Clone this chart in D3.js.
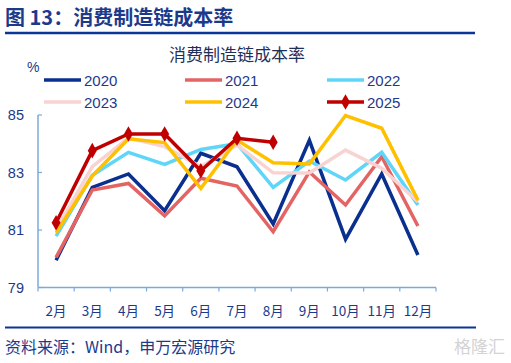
<!DOCTYPE html>
<meta charset="utf-8">
<style>
body { margin: 0; background: #fff; }
text { font-family: "Liberation Sans", "Noto Sans CJK SC", sans-serif; fill: #1c3a8c; }
.cjk { font-family: "Noto Sans CJK SC", sans-serif; }
</style>
<svg width="511" height="363"></svg>
<script src="https://d3js.org/d3.v7.min.js"></script>
<script>

var months = ["2月", "3月", "4月", "5月", "6月", "7月", "8月", "9月", "10月", "11月", "12月"];
var years = ["2020", "2021", "2022", "2023", "2024", "2025"];
var yTicks = [79, 81, 83, 85];

var v2020 = [79.95, 82.48, 82.95, 81.67, 83.67, 83.2, 81.21, 84.12, 80.68, 82.95, 80.13];
var v2021 = [80.05, 82.39, 82.62, 81.49, 82.8, 82.53, 80.94, 83.02, 81.87, 83.55, 81.14];
var v2022 = [80.79, 82.9, 83.7, 83.28, 83.8, 84.0, 82.48, 83.4, 82.74, 83.7, 81.87];
var v2023 = [81.0, 83.2, 84.2, 83.9, 83.2, 83.96, 82.99, 82.98, 83.78, 83.15, 81.98];
var v2024 = [80.9, 82.88, 84.17, 84.04, 82.45, 84.13, 83.34, 83.3, 84.98, 84.54, 82.04];
var v2025 = [81.25, 83.76, 84.34, 84.34, 83.06, 84.19, 84.05];

var colors = ["#0a2f8f", "#e46464", "#5fd6f8", "#f9d2d2", "#ffc000", "#c00000"];
var series = [v2020, v2021, v2022, v2023, v2024, v2025];

var svg = d3.select("svg");

// header
svg.append("text").attr("class", "cjk")
    .attr("x", 5).attr("y", 25)
    .style("font-size", "20px").style("font-weight", "bold")
    .text("图 13：消费制造链成本率");
svg.append("line").attr("x1", 5).attr("x2", 475).attr("y1", 33).attr("y2", 33)
    .attr("stroke", "#0b3596").attr("stroke-width", 2.5);

svg.append("text").attr("class", "cjk")
    .attr("x", 237).attr("y", 61).attr("text-anchor", "middle")
    .style("font-size", "17px").style("fill", "#1f2f5c")
    .text("消费制造链成本率");

svg.append("text").attr("x", 27).attr("y", 72)
    .style("font-size", "14px").text("%");

// scales
var x = d3.scaleBand().domain(months).range([38, 436]);
var y = d3.scaleLinear().domain([79, 85]).range([287.5, 115]);

// axes
var axisColor = "#7aaadc";
var gx = svg.append("g").attr("transform", "translate(0," + y(79) + ")");
gx.append("line").attr("x1", x.range()[0]).attr("x2", x.range()[1])
    .attr("stroke", axisColor).attr("stroke-width", 1.5);
gx.selectAll("line.tick").data(months.concat(["end"])).enter().append("line")
    .attr("class", "tick")
    .attr("x1", function(d, i) { return x.range()[0] + i * x.step(); })
    .attr("x2", function(d, i) { return x.range()[0] + i * x.step(); })
    .attr("y1", 0).attr("y2", 4)
    .attr("stroke", axisColor).attr("stroke-width", 1.2);
gx.selectAll("text").data(months).enter().append("text")
    .attr("class", "cjk")
    .attr("x", function(d) { return x(d) + x.bandwidth() / 2; })
    .attr("y", 28).attr("text-anchor", "middle")
    .style("font-size", "13.5px")
    .text(function(d) { return d; });

var gy = svg.append("g").attr("transform", "translate(" + x.range()[0] + ",0)");
gy.append("line").attr("y1", y(79)).attr("y2", y(85))
    .attr("stroke", axisColor).attr("stroke-width", 1.5);
gy.selectAll("line.tick").data(yTicks).enter().append("line")
    .attr("class", "tick")
    .attr("x1", 0).attr("x2", 4)
    .attr("y1", function(d) { return y(d); }).attr("y2", function(d) { return y(d); })
    .attr("stroke", axisColor).attr("stroke-width", 1.2);
gy.selectAll("text").data(yTicks).enter().append("text")
    .attr("x", -14).attr("y", function(d) { return y(d) + 5; })
    .attr("text-anchor", "end")
    .style("font-size", "14.5px")
    .text(function(d) { return d; });

// lines
var line = d3.line()
    .x(function(d, i) { return x(months[i]) + x.bandwidth() / 2; })
    .y(function(d) { return y(d); });

series.forEach(function(s, k) {
  svg.append("path").datum(s)
      .attr("d", line)
      .attr("fill", "none")
      .attr("stroke", colors[k])
      .attr("stroke-width", 3.5)
      .attr("stroke-linejoin", "miter");
});

var diamond = d3.symbol().type(d3.symbolDiamond).size(70);
svg.selectAll("path.mark").data(v2025).enter().append("path")
    .attr("class", "mark")
    .attr("d", diamond)
    .attr("transform", function(d, i) {
      return "translate(" + (x(months[i]) + x.bandwidth() / 2) + "," + y(d) + ")";
    })
    .attr("fill", colors[5]);

// legend
var legX = [44, 185, 327], legY = [80, 102];
var leg = svg.selectAll("g.leg").data(years).enter().append("g")
    .attr("class", "leg")
    .attr("transform", function(d, i) {
      return "translate(" + legX[i % 3] + "," + legY[Math.floor(i / 3)] + ")";
    });
leg.append("line").attr("x1", 0).attr("x2", 37).attr("y1", 0).attr("y2", 0)
    .attr("stroke", function(d, i) { return colors[i]; })
    .attr("stroke-width", 3.5);
leg.append("text").attr("x", 40).attr("y", 5.5)
    .style("font-size", "15px")
    .text(function(d) { return d; });
leg.filter(function(d) { return d === "2025"; }).append("path")
    .attr("d", diamond).attr("transform", "translate(18.5,0)").attr("fill", colors[5]);

// footer
svg.append("line").attr("x1", 5).attr("x2", 476).attr("y1", 327.5).attr("y2", 327.5)
    .attr("stroke", "#0b3596").attr("stroke-width", 2);
svg.append("text").attr("class", "cjk")
    .attr("x", 5).attr("y", 353)
    .style("font-size", "16px")
    .text("资料来源：Wind，申万宏源研究");
svg.append("text").attr("class", "cjk")
    .attr("x", 505).attr("y", 353).attr("text-anchor", "end")
    .style("font-size", "17px").style("fill", "#d3d3d3")
    .text("格隆汇");

</script>
